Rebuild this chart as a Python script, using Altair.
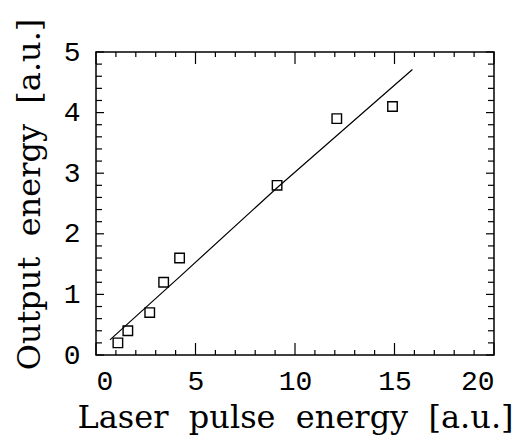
import altair as alt
import pandas as pd

laser = [1.1, 1.6, 2.7, 3.4, 4.2, 9.1, 12.1, 14.9]
output = [0.2, 0.4, 0.7, 1.2, 1.6, 2.8, 3.9, 4.1]

# Fitted line
fit_x = [0.7, 4.2, 9.1, 15.9]
fit_y = [0.25, 1.29, 2.76, 4.71]

# Tick values
x_major = [0, 5, 10, 15, 20]
x_minor = [1, 2, 3, 4, 6, 7, 8, 9, 11, 12, 13, 14, 16, 17, 18, 19]
y_major = [0, 1, 2, 3, 4, 5]
y_minor = [0.2, 0.4, 0.6, 0.8, 1.2, 1.4, 1.6, 1.8, 2.2, 2.4, 2.6, 2.8,
           3.2, 3.4, 3.6, 3.8, 4.2, 4.4, 4.6, 4.8]

GAP = "\u00a0\u00a0"
x_title = GAP.join(["Laser", "pulse", "energy", "[a.u.]"])
y_title = GAP.join(["Output", "energy", "[a.u.]"])

W, H = 398, 303
SERIF = "DejaVu Serif"
TICKFONT = "Liberation Mono"

xs = alt.Scale(domain=[0, 20], nice=False, zero=False)
ys = alt.Scale(domain=[0, 5], nice=False, zero=False)

XAXIS = alt.Axis(
    title=x_title, values=x_major, format="d", grid=False, ticks=False, domain=False,
    labelFontSize=28, labelFont=TICKFONT, labelColor="black", labelPadding=12,
    titleFont=SERIF, titleFontSize=32, titleFontWeight="normal", titleColor="black",
    titleX=W / 2, titleY=72, titleBaseline="alphabetic", titleAlign="center")
YAXIS = alt.Axis(
    title=y_title, values=y_major, format="d", grid=False, ticks=False, domain=False,
    labelFontSize=28, labelFont=TICKFONT, labelColor="black", labelPadding=16,
    titleFont=SERIF, titleFontSize=32, titleFontWeight="normal", titleColor="black",
    titleAngle=-90, titleX=-57, titleY=142, titleBaseline="alphabetic", titleAlign="center")

pts_df = pd.DataFrame({"x": laser, "y": output})
fit_df = pd.DataFrame({"x": fit_x, "y": fit_y})

points = alt.Chart(pts_df).mark_point(
    shape="square", filled=False, size=90, color="black", strokeWidth=1.4, opacity=1
).encode(
    x=alt.X("x:Q", scale=xs, axis=XAXIS),
    y=alt.Y("y:Q", scale=ys, axis=YAXIS),
)

line = alt.Chart(fit_df).mark_line(color="black", strokeWidth=1.2).encode(
    x=alt.X("x:Q", scale=xs, axis=XAXIS),
    y=alt.Y("y:Q", scale=ys, axis=YAXIS),
)


def xticks(vals, length):
    df = pd.DataFrame({"v": vals})
    bottom = alt.Chart(df).mark_rule(color="black", strokeWidth=1.2).encode(
        x=alt.X("v:Q", scale=xs, axis=XAXIS), y=alt.value(H), y2=alt.value(H - length))
    top = alt.Chart(df).mark_rule(color="black", strokeWidth=1.2).encode(
        x=alt.X("v:Q", scale=xs, axis=XAXIS), y=alt.value(0), y2=alt.value(length))
    return [bottom, top]


def yticks(vals, length):
    df = pd.DataFrame({"v": vals})
    left = alt.Chart(df).mark_rule(color="black", strokeWidth=1.2).encode(
        y=alt.Y("v:Q", scale=ys, axis=YAXIS), x=alt.value(0), x2=alt.value(length))
    right = alt.Chart(df).mark_rule(color="black", strokeWidth=1.2).encode(
        y=alt.Y("v:Q", scale=ys, axis=YAXIS), x=alt.value(W), x2=alt.value(W - length))
    return [left, right]


layers = [points, line] + xticks(x_major, 12) + xticks(x_minor, 5) + yticks(y_major, 8) + yticks(y_minor, 6)

chart = alt.layer(*layers).properties(
    width=W, height=H,
    autosize=alt.AutoSizeParams(type="none"),
    padding={"left": 88, "top": 44, "right": 26, "bottom": 82},
    background="white",
).configure_view(stroke="black", strokeWidth=1.5)

chart.save("out.html", embed_options={"renderer": "svg", "actions": False})
